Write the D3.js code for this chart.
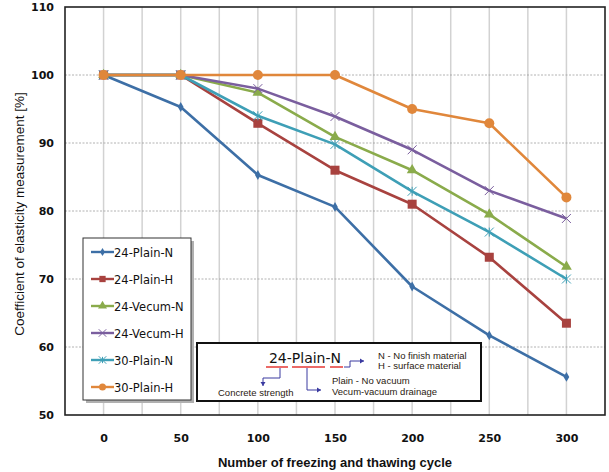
<!DOCTYPE html>
<html>
<head>
<meta charset="utf-8">
<script src="https://cdn.jsdelivr.net/npm/d3@7"></script>
<style>
  body { margin: 0; background: #fff; }
  text { font-family: "DejaVu Sans", sans-serif; }
</style>
</head>
<body>
<svg id="chart" width="609" height="472"></svg>
<script>
const cycles = [0, 50, 100, 150, 200, 250, 300];
const seriesNames = ['24-Plain-N', '24-Plain-H', '24-Vecum-N', '24-Vecum-H', '30-Plain-N', '30-Plain-H'];
const plainN24 = [100, 95.3, 85.3, 80.6, 68.9, 61.7, 55.6];
const plainH24 = [100, 100, 92.9, 86, 81, 73.2, 63.5];
const vecumN24 = [100, 100, 97.4, 90.9, 86, 79.5, 71.8];
const vecumH24 = [100, 100, 98, 93.9, 89, 83, 78.9];
const plainN30 = [100, 100, 94, 89.8, 82.9, 76.9, 70];
const plainH30 = [100, 100, 100, 100, 95, 92.9, 82];
const yTicks = [50, 60, 70, 80, 90, 100, 110];

const colors = ['#3d6fa6', '#a8423f', '#8aab4b', '#7a5e9e', '#3e9fb6', '#e0873b'];
const shapes = ['diamond', 'square', 'triangle', 'cross', 'star', 'circle'];
const values = [plainN24, plainH24, vecumN24, vecumH24, plainN30, plainH30];

const series = seriesNames.map((name, i) => ({
    name: name,
    color: colors[i],
    shape: shapes[i],
    points: cycles.map((c, j) => ({ x: c, y: values[i][j] }))
}));

const svg = d3.select('#chart');
const plot = { left: 65, right: 605, top: 7, bottom: 415 };

const x = d3.scaleLinear().domain([-25, 325]).range([plot.left, plot.right]);
const y = d3.scaleLinear().domain([50, 110]).range([plot.bottom, plot.top]);

// vertical grid, every 25
svg.append('g')
    .selectAll('line')
    .data(d3.range(0, 325, 25))
    .join('line')
    .attr('x1', d => x(d)).attr('x2', d => x(d))
    .attr('y1', plot.top).attr('y2', plot.bottom)
    .attr('stroke', '#d2d2d2')
    .attr('stroke-width', 1.5);

// horizontal grid, dotted
svg.append('g')
    .selectAll('line')
    .data(yTicks.slice(1, -1))
    .join('line')
    .attr('x1', plot.left).attr('x2', plot.right)
    .attr('y1', d => y(d)).attr('y2', d => y(d))
    .attr('stroke', '#a0a0a0')
    .attr('stroke-width', 0.8)
    .attr('stroke-dasharray', '2,1.5');

// plot border
svg.append('rect')
    .attr('x', plot.left).attr('y', plot.top)
    .attr('width', plot.right - plot.left).attr('height', plot.bottom - plot.top)
    .attr('fill', 'none')
    .attr('stroke', '#222')
    .attr('stroke-width', 1.6);

// axes (labels only)
const yAxis = svg.append('g')
    .attr('transform', `translate(${plot.left - 11},0)`)
    .call(d3.axisLeft(y).tickValues(yTicks).tickSize(0).tickPadding(0));
yAxis.select('.domain').remove();
yAxis.selectAll('text')
    .attr('font-family', '"DejaVu Sans", sans-serif')
    .attr('font-size', 11)
    .attr('font-weight', 'bold')
    .attr('fill', '#111');

const xAxis = svg.append('g')
    .attr('transform', `translate(0,${plot.bottom + 19})`)
    .call(d3.axisBottom(x).tickValues(cycles).tickSize(0).tickPadding(0));
xAxis.select('.domain').remove();
xAxis.selectAll('text')
    .attr('font-family', '"DejaVu Sans", sans-serif')
    .attr('font-size', 11)
    .attr('font-weight', 'bold')
    .attr('fill', '#111');

// axis titles
svg.append('text')
    .attr('x', (plot.left + plot.right) / 2)
    .attr('y', 467)
    .attr('text-anchor', 'middle')
    .attr('font-size', 13)
    .attr('font-weight', 'bold')
    .attr('fill', '#111')
    .style('font-family', '"Liberation Sans", Arial, sans-serif')
    .text('Number of freezing and thawing cycle');

svg.append('text')
    .attr('transform', `translate(24, ${(plot.top + plot.bottom) / 2 + 3}) rotate(-90)`)
    .attr('text-anchor', 'middle')
    .attr('font-size', 13.5)
    .attr('fill', '#111')
    .style('font-family', '"Liberation Sans", Arial, sans-serif')
    .text('Coefficient of elasticity measurement [%]');

// marker drawing
function drawMarker(g, shape, color, size) {
    if (shape === 'diamond') {
        g.append('path').attr('d', d3.symbol(d3.symbolDiamond, size * 4)()).attr('fill', color);
    } else if (shape === 'square') {
        g.append('rect').attr('x', -size / 2).attr('y', -size / 2)
            .attr('width', size).attr('height', size).attr('fill', color);
    } else if (shape === 'triangle') {
        g.append('path').attr('d', d3.symbol(d3.symbolTriangle, size * 5)()).attr('fill', color);
    } else if (shape === 'cross') {
        g.append('path').attr('d', d3.symbol(d3.symbolX, size * 6)())
            .attr('fill', 'none').attr('stroke', color).attr('stroke-width', 1);
    } else if (shape === 'star') {
        g.append('path').attr('d', d3.symbol(d3.symbolX, size * 6)())
            .attr('fill', 'none').attr('stroke', color).attr('stroke-width', 1);
        g.append('line').attr('x1', 0).attr('x2', 0).attr('y1', -size / 2).attr('y2', size / 2)
            .attr('stroke', color).attr('stroke-width', 1);
    } else {
        g.append('circle').attr('r', size / 2).attr('fill', color);
    }
}

const markerSize = { diamond: 7, square: 9, triangle: 10, cross: 9, star: 9, circle: 10 };

const line = d3.line().x(d => x(d.x)).y(d => y(d.y));

series.forEach(s => {
    svg.append('path')
        .datum(s.points)
        .attr('fill', 'none')
        .attr('stroke', s.color)
        .attr('stroke-width', 2.6)
        .attr('stroke-linejoin', 'round')
        .attr('d', line);
    s.points.forEach(p => {
        const g = svg.append('g').attr('transform', `translate(${x(p.x)},${y(p.y)})`);
        drawMarker(g, s.shape, s.color, markerSize[s.shape]);
    });
});

// legend
const lg = svg.append('g').attr('transform', 'translate(83,238)');
lg.append('rect').attr('x', 3).attr('y', 3).attr('width', 108).attr('height', 162).attr('fill', '#b0b0b0');
lg.append('rect').attr('width', 108).attr('height', 162)
    .attr('fill', '#fff').attr('stroke', '#333').attr('stroke-width', 1);
series.forEach((s, i) => {
    const row = lg.append('g').attr('transform', `translate(0,${14 + i * 27})`);
    row.append('line').attr('x1', 8).attr('x2', 31).attr('y1', 0).attr('y2', 0)
        .attr('stroke', s.color).attr('stroke-width', 2.4);
    const mg = row.append('g').attr('transform', 'translate(19.5,0)');
    drawMarker(mg, s.shape, s.color, markerSize[s.shape] * 0.7);
    row.append('text').attr('x', 31).attr('y', 4.5)
        .attr('font-size', 11.5)
        .attr('fill', '#111')
        .text(s.name);
});

// annotation box
const ab = svg.append('g').attr('transform', 'translate(197,343)');
ab.append('rect').attr('width', 284).attr('height', 58)
    .attr('fill', '#fff').attr('stroke', '#111').attr('stroke-width', 2);
ab.append('text').attr('x', 108).attr('y', 20)
    .attr('text-anchor', 'middle')
    .attr('font-size', 14)
    .attr('fill', '#111')
    .text('24-Plain-N');
const red = '#e53935', blue = '#3a3aa0';
[[69, 91], [95, 128], [133, 146]].forEach(d => {
    ab.append('line').attr('x1', d[0]).attr('x2', d[1]).attr('y1', 24).attr('y2', 24)
        .attr('stroke', red).attr('stroke-width', 1.5);
});
const arrows = [
    [[83, 25], [83, 35], [66, 35], [66, 43]],
    [[110, 25], [110, 47], [124, 47]],
    [[147, 24], [153, 24], [153, 18], [167, 18]]
];
arrows.forEach(pts => {
    ab.append('path').attr('d', d3.line()(pts))
        .attr('fill', 'none').attr('stroke', blue).attr('stroke-width', 1);
    const a = pts[pts.length - 1], b = pts[pts.length - 2];
    const ang = Math.atan2(a[1] - b[1], a[0] - b[0]) * 180 / Math.PI;
    ab.append('path').attr('d', 'M0,0L-4,-2.5L-4,2.5Z')
        .attr('transform', `translate(${a[0]},${a[1]}) rotate(${ang})`)
        .attr('fill', blue);
});
const noteText = [
    ['Concrete strength', 21, 53],
    ['Plain - No vacuum', 135, 41],
    ['Vecum-vacuum drainage', 135, 52],
    ['N - No finish material', 181, 16],
    ['H - surface material', 181, 26]
];
noteText.forEach(t => {
    ab.append('text').attr('x', t[1]).attr('y', t[2])
        .attr('font-size', 9.5)
        .attr('fill', '#2a1a10')
        .style('font-family', '"Liberation Sans", Arial, sans-serif')
        .text(t[0]);
});
</script>
</body>
</html>
